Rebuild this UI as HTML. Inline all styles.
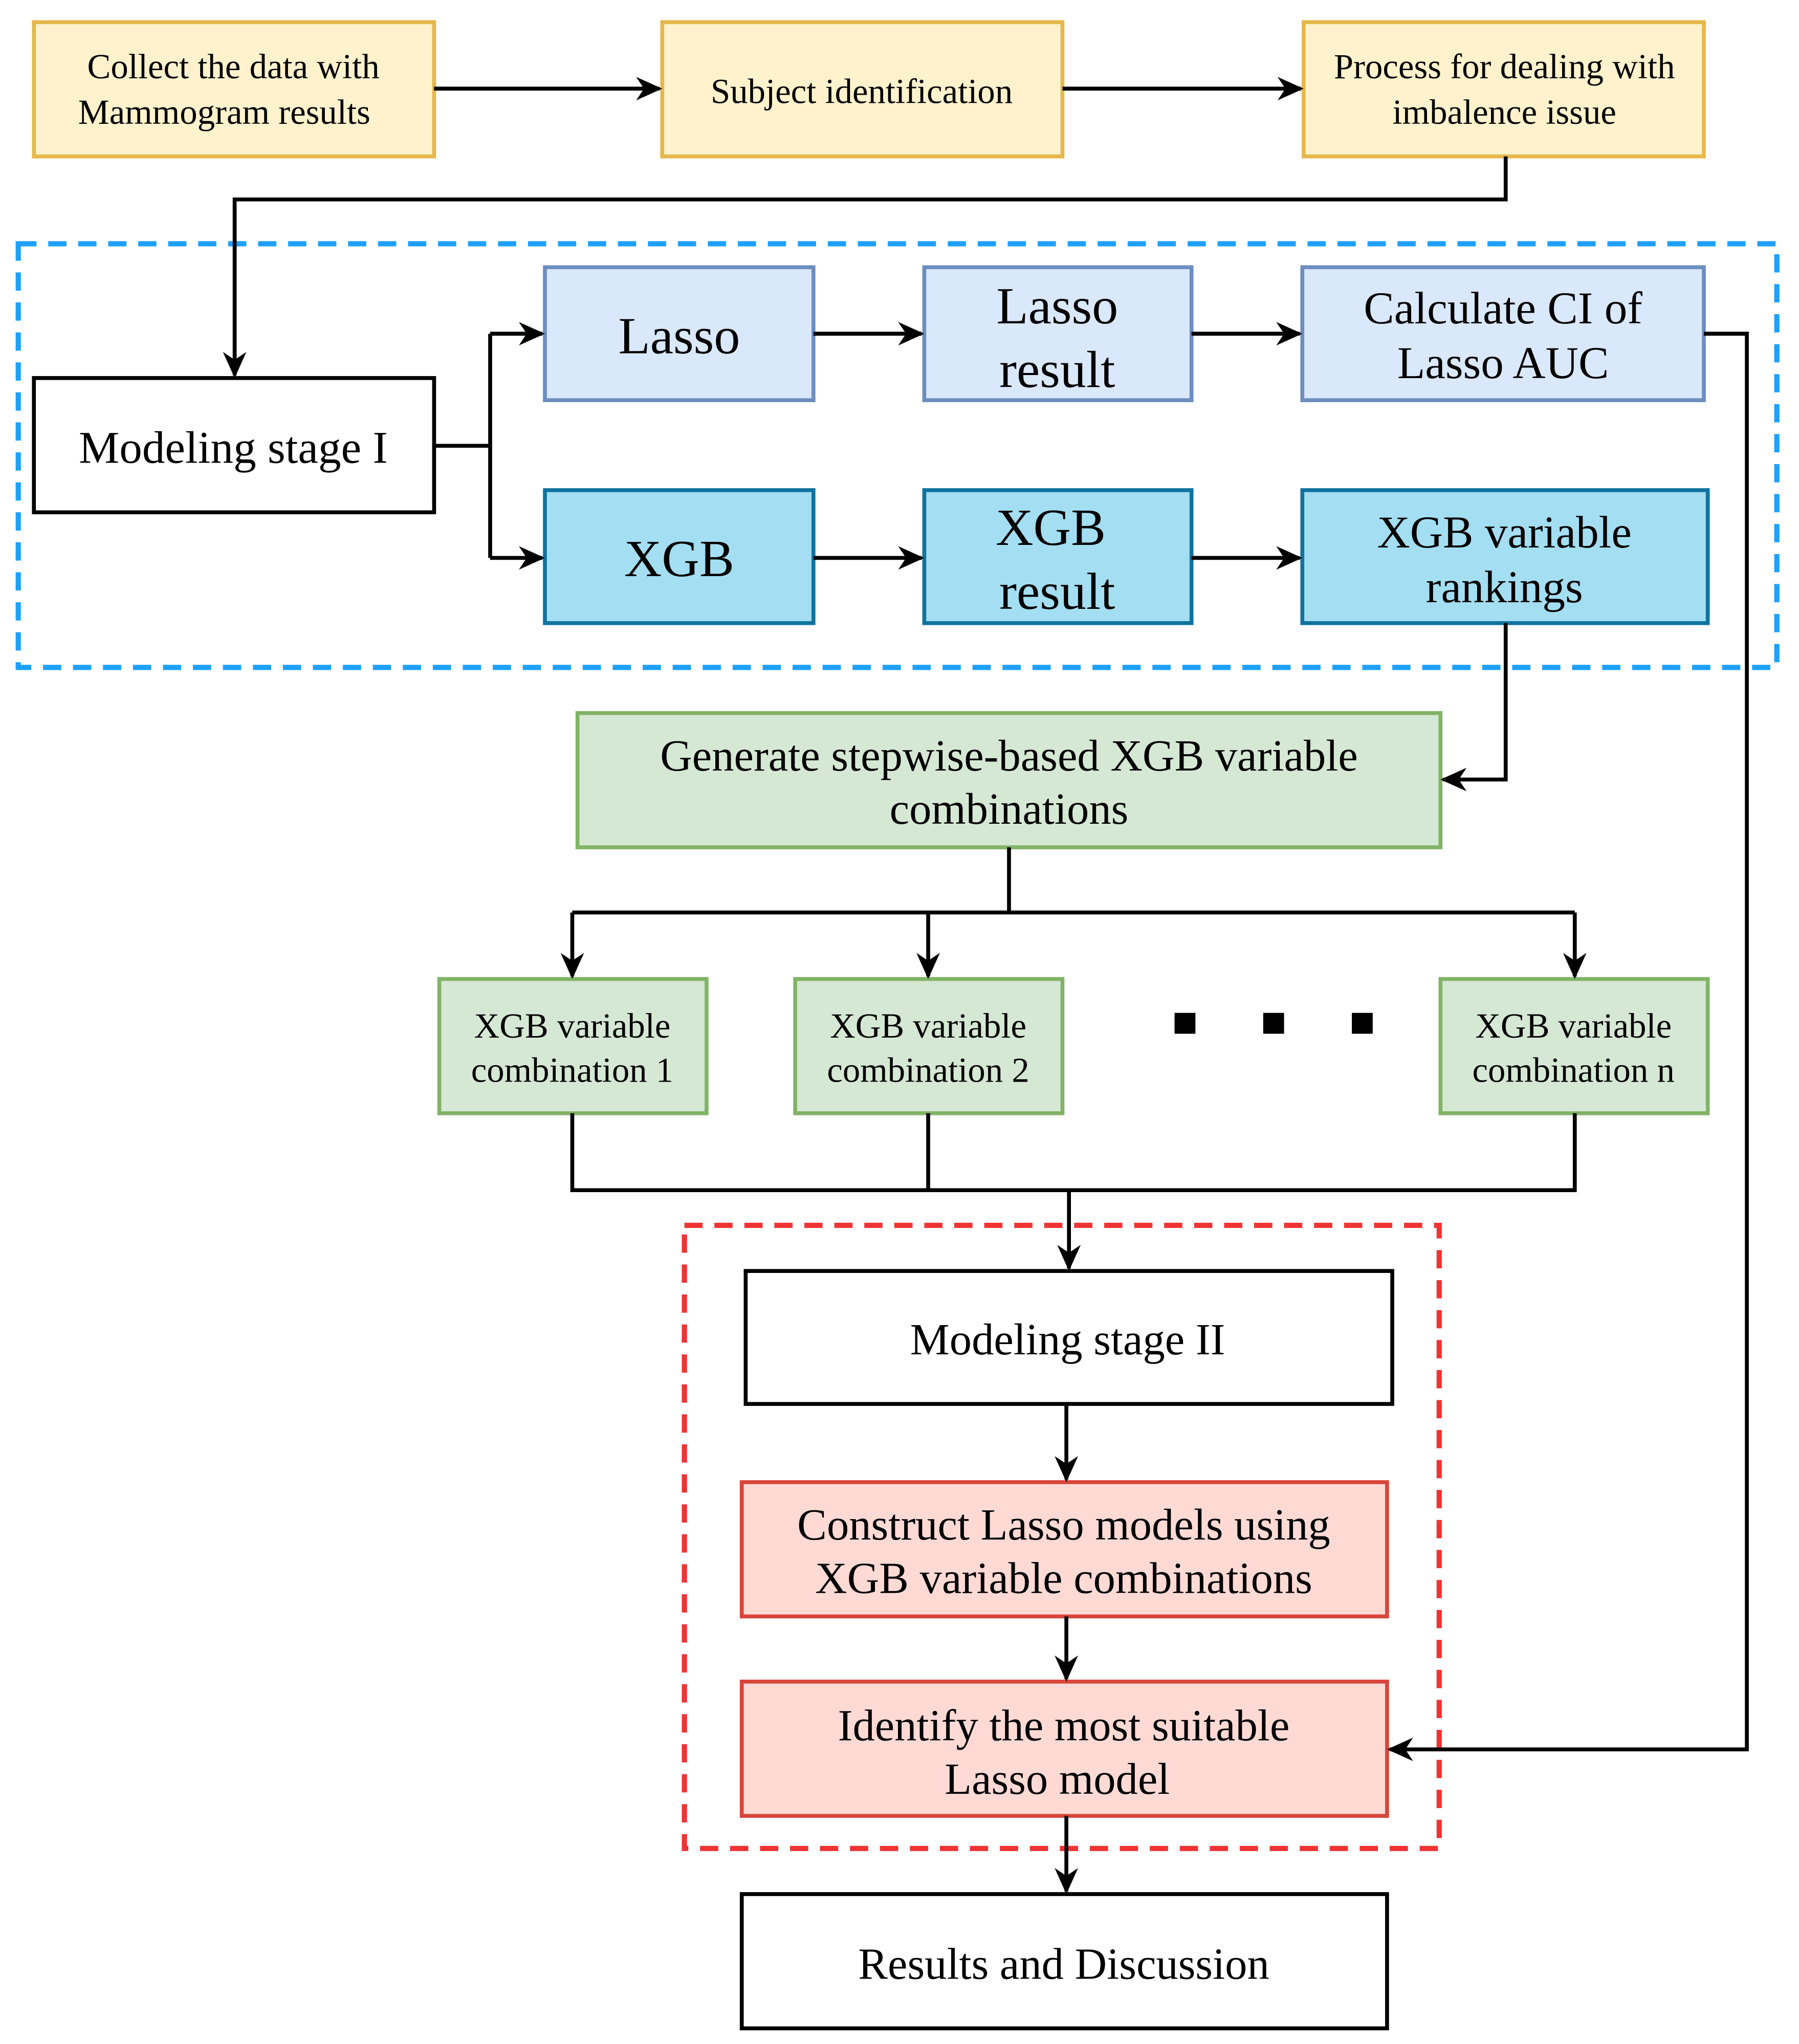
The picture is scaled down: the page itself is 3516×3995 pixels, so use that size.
<!DOCTYPE html>
<html><head><meta charset="utf-8"><style>
html,body{margin:0;padding:0;background:#fff;}
svg{display:block;}
text{font-family:"Liberation Serif",serif;fill:#000;text-anchor:middle;}
</style></head><body>
<svg width="3516" height="3995" viewBox="0 0 1380 1568" xmlns="http://www.w3.org/2000/svg">
<defs><marker id="a" markerWidth="20" markerHeight="18" refX="18" refY="9" orient="auto" markerUnits="userSpaceOnUse" viewBox="0 0 20 18">
<path d="M0,0 L20,9 L0,18 L6,9 z" fill="#000"/></marker></defs>
<rect width="1380" height="1568" fill="#fff"/>
<g stroke-width="3">
<rect x="26" y="17" width="307" height="103" fill="#fff2cc" stroke="#e6b84c"/>
<rect x="508" y="17" width="307" height="103" fill="#fff2cc" stroke="#e6b84c"/>
<rect x="1000" y="17" width="307" height="103" fill="#fff2cc" stroke="#e6b84c"/>
<rect x="14" y="187" width="1349" height="325" fill="none" stroke="#1ea0ff" stroke-dasharray="14,9" stroke-width="4"/>
<rect x="26" y="290" width="307" height="103" fill="#fff" stroke="#000"/>
<rect x="418" y="205" width="206" height="102" fill="#dae8fc" stroke="#6c8ebf"/>
<rect x="709" y="205" width="205" height="102" fill="#dae8fc" stroke="#6c8ebf"/>
<rect x="999" y="205" width="308" height="102" fill="#dae8fc" stroke="#6c8ebf"/>
<rect x="418" y="376" width="206" height="102" fill="#a4def2" stroke="#10739e"/>
<rect x="709" y="376" width="205" height="102" fill="#a4def2" stroke="#10739e"/>
<rect x="999" y="376" width="311" height="102" fill="#a4def2" stroke="#10739e"/>
<rect x="443" y="547" width="662" height="103" fill="#d5e8d4" stroke="#82b366"/>
<rect x="337" y="751" width="205" height="103" fill="#d5e8d4" stroke="#82b366"/>
<rect x="610" y="751" width="205" height="103" fill="#d5e8d4" stroke="#82b366"/>
<rect x="1105" y="751" width="205" height="103" fill="#d5e8d4" stroke="#82b366"/>
<rect x="525" y="940" width="579" height="478" fill="none" stroke="#f03333" stroke-dasharray="14,9" stroke-width="4"/>
<rect x="572" y="975" width="496" height="102" fill="#fff" stroke="#000"/>
<rect x="569" y="1137" width="495" height="103" fill="#ffdad5" stroke="#d9453a"/>
<rect x="569" y="1290" width="495" height="103" fill="#ffdad5" stroke="#d9453a"/>
<rect x="569" y="1453" width="495" height="103" fill="#fff" stroke="#000"/>
</g>
<g stroke="#000" stroke-width="3" fill="none">
<path d="M333,68 H506" marker-end="url(#a)"/>
<path d="M815,68 H998" marker-end="url(#a)"/>
<path d="M1155,120 V153 H180 V288" marker-end="url(#a)"/>
<path d="M333,342 H376"/>
<path d="M376,256 V428"/>
<path d="M376,256 H416" marker-end="url(#a)"/>
<path d="M376,428 H416" marker-end="url(#a)"/>
<path d="M624,256 H707" marker-end="url(#a)"/>
<path d="M914,256 H997" marker-end="url(#a)"/>
<path d="M624,428 H707" marker-end="url(#a)"/>
<path d="M914,428 H997" marker-end="url(#a)"/>
<path d="M1307,256 H1340 V1342 H1066" marker-end="url(#a)"/>
<path d="M1155,478 V598 H1107" marker-end="url(#a)"/>
<path d="M774,650 V700"/>
<path d="M439,700 H1208"/>
<path d="M439,700 V749" marker-end="url(#a)"/>
<path d="M712,700 V749" marker-end="url(#a)"/>
<path d="M1208,700 V749" marker-end="url(#a)"/>
<path d="M439,854 V913 H1208 V854"/>
<path d="M712,854 V913"/>
<path d="M820,913 V973" marker-end="url(#a)"/>
<path d="M818,1077 V1135" marker-end="url(#a)"/>
<path d="M818,1240 V1288" marker-end="url(#a)"/>
<path d="M818,1393 V1451" marker-end="url(#a)"/>
</g>
<rect x="901" y="777" width="16" height="16" fill="#000"/>
<rect x="969" y="777" width="16" height="16" fill="#000"/>
<rect x="1037" y="777" width="16" height="16" fill="#000"/>
<g font-size="27">
<text x="179" y="60">Collect the data with</text>
<text x="172" y="95">Mammogram results</text>
<text x="661" y="79">Subject identification</text>
<text x="1154" y="60">Process for dealing with</text>
<text x="1154" y="95">imbalence issue</text>
</g>
<text x="179" y="355" font-size="35">Modeling stage I</text>
<text x="521" y="271" font-size="40">Lasso</text>
<text x="811" y="248" font-size="40">Lasso</text>
<text x="811" y="297" font-size="40">result</text>
<text x="1153" y="248" font-size="35">Calculate CI of</text>
<text x="1153" y="290" font-size="35">Lasso AUC</text>
<text x="521" y="442" font-size="40">XGB</text>
<text x="806" y="418" font-size="40">XGB</text>
<text x="811" y="467" font-size="40">result</text>
<text x="1154" y="420" font-size="35">XGB variable</text>
<text x="1154" y="462" font-size="35">rankings</text>
<text x="774" y="591" font-size="34">Generate stepwise-based XGB variable</text>
<text x="774" y="632" font-size="34">combinations</text>
<g font-size="27">
<text x="439" y="796">XGB variable</text>
<text x="439" y="830">combination 1</text>
<text x="712" y="796">XGB variable</text>
<text x="712" y="830">combination 2</text>
<text x="1207" y="796">XGB variable</text>
<text x="1207" y="830">combination n</text>
</g>
<text x="819" y="1039" font-size="34">Modeling stage II</text>
<text x="816" y="1181" font-size="34">Construct Lasso models using</text>
<text x="816" y="1222" font-size="34">XGB variable combinations</text>
<text x="816" y="1335" font-size="34">Identify the most suitable</text>
<text x="811" y="1376" font-size="34">Lasso model</text>
<text x="816" y="1518" font-size="34">Results and Discussion</text>
</svg>
</body></html>
